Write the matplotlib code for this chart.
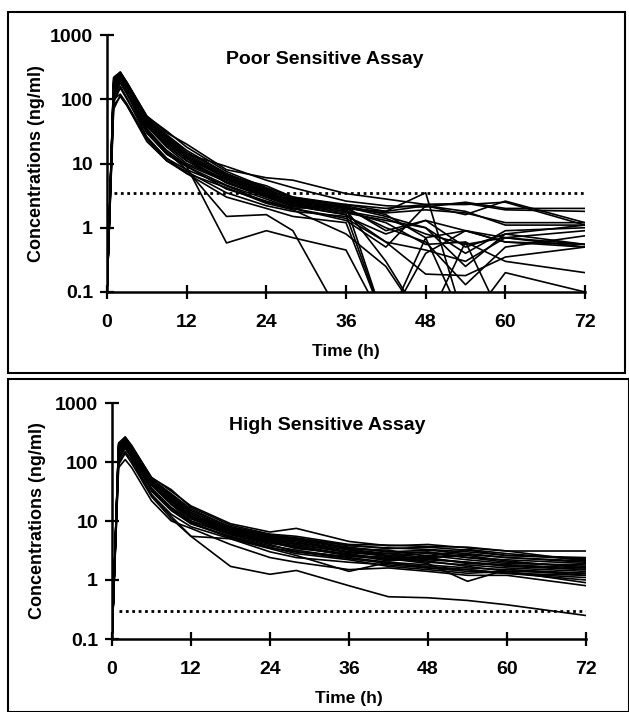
import matplotlib
matplotlib.use("Agg")
import matplotlib.pyplot as plt
from matplotlib.patches import Rectangle
from matplotlib.ticker import FixedLocator, NullLocator

plt.rcParams['font.family'] = ['Liberation Sans', 'DejaVu Sans']
plt.rcParams['font.weight'] = 'bold'

# --- Data ---
TIMES = [0, 1, 2, 3, 6, 9, 12, 18, 24, 28, 36, 42, 48, 54, 60, 72]
X_TICKS = [0, 12, 24, 36, 48, 60, 72]
Y_TICKS = [0.1, 1, 10, 100, 1000]
Y_LABELS = ["0.1", "1", "10", "100", "1000"]
TITLES = ["Poor Sensitive Assay", "High Sensitive Assay"]
LOQ = [3.5, 0.3]

# poor sensitive assay: one row per subject (values < 0.1 fall off the axis)
POOR = [
    [0.1, 160, 255, 180, 55, 30, 20, 8.0, 6.0, 5.5, 3.4, 2.8, 2.3, 2.4, 1.9, 1.8],
    [0.1, 200, 265, 175, 50, 26, 14, 9.0, 5.5, 4.2, 2.6, 2.2, 2.1, 2.5, 2.0, 2.0],
    [0.1, 90, 150, 100, 30, 14, 9.0, 0.58, 0.9, 0.7, 0.45, 0.03, 0.03, 0.03, 0.03, 0.03],
    [0.1, 120, 200, 130, 35, 15, 8.0, 1.5, 1.6, 0.9, 0.03, 0.03, 0.03, 0.03, 0.03, 0.03],
    [0.1, 180, 250, 170, 48, 24, 13, 6.5, 4.5, 3.0, 2.3, 1.8, 3.5, 0.03, 0.03, 0.03],
    [0.1, 100, 120, 85, 25, 12, 8.0, 4.5, 2.5, 2.0, 2.2, 0.03, 0.4, 0.9, 0.7, 0.55],
    [0.1, 210, 260, 180, 52, 28, 16, 7.0, 4.0, 2.8, 2.0, 1.0, 0.6, 0.13, 0.5, 0.75],
    [0.1, 150, 235, 155, 40, 20, 11, 5.0, 3.0, 2.2, 1.6, 0.6, 0.19, 0.18, 0.35, 0.5],
    [0.1, 80, 110, 80, 24, 11, 7.5, 3.5, 2.2, 1.8, 1.5, 0.8, 1.3, 0.5, 0.8, 0.55],
    [0.1, 170, 245, 165, 46, 22, 12, 6.0, 3.5, 2.6, 2.1, 1.5, 1.0, 0.25, 0.8, 1.1],
    [0.1, 140, 230, 150, 38, 18, 10, 5.5, 3.2, 2.4, 1.8, 1.2, 0.55, 0.6, 0.3, 0.2],
    [0.1, 110, 180, 120, 30, 14, 9.0, 4.0, 2.6, 2.0, 1.3, 0.5, 2.2, 1.6, 2.6, 1.2],
    [0.1, 155, 230, 160, 44, 22, 12, 5.0, 3.0, 2.1, 2.3, 2.0, 2.3, 2.3, 2.5, 1.1],
    [0.1, 220, 265, 185, 54, 32, 18, 7.5, 4.2, 3.0, 2.2, 1.6, 0.7, 0.9, 0.6, 0.55],
    [0.1, 100, 160, 105, 26, 12, 7.0, 3.0, 2.0, 1.5, 1.2, 0.03, 0.03, 0.03, 0.2, 0.1],
    [0.1, 160, 240, 160, 42, 21, 12, 6.0, 3.6, 2.5, 1.9, 0.3, 0.03, 0.6, 0.03, 0.03],
    [0.1, 175, 250, 170, 47, 24, 13, 5.8, 3.3, 2.3, 1.7, 1.3, 1.0, 0.4, 0.9, 1.0],
    [0.1, 130, 210, 140, 34, 16, 9.5, 5.2, 3.1, 2.2, 1.6, 0.03, 0.7, 0.03, 0.03, 0.03],
    [0.1, 190, 255, 175, 50, 27, 15, 6.8, 4.0, 2.7, 2.0, 1.8, 2.2, 1.8, 1.1, 1.1],
    [0.1, 70, 115, 80, 22, 11, 7.0, 4.2, 2.4, 1.9, 0.8, 0.25, 0.03, 0.03, 0.03, 0.03],
    [0.1, 165, 245, 170, 46, 23, 13, 6.2, 3.7, 2.6, 2.0, 1.7, 1.9, 1.7, 1.2, 1.2],
    [0.1, 120, 190, 125, 32, 15, 9.0, 4.6, 2.8, 2.0, 1.4, 0.6, 0.45, 0.3, 0.7, 0.5],
    [0.1, 185, 250, 170, 48, 25, 14, 6.5, 3.8, 2.9, 2.1, 0.9, 1.3, 0.9, 0.6, 0.5],
    [0.1, 145, 225, 150, 40, 19, 11, 5.6, 3.4, 2.4, 1.8, 1.4, 0.8, 0.55, 0.7, 0.9],
]

# high sensitive assay
HIGH = [
    [0.1, 160, 245, 170, 52, 28, 14, 7.5, 5.5, 5.0, 3.5, 3.0, 3.2, 2.8, 2.4, 2.0],
    [0.1, 90, 140, 95, 26, 11, 5.5, 1.7, 1.25, 1.45, 0.8, 0.52, 0.5, 0.45, 0.38, 0.25],
    [0.1, 110, 170, 115, 28, 12, 5.5, 5.0, 3.0, 2.4, 2.0, 1.8, 1.6, 1.4, 1.3, 1.0],
    [0.1, 200, 265, 185, 55, 32, 18, 9.0, 6.5, 7.5, 4.5, 3.8, 4.0, 3.5, 3.1, 3.1],
    [0.1, 160, 240, 165, 46, 23, 12, 7.0, 5.0, 4.6, 3.2, 2.6, 2.8, 2.4, 2.0, 1.7],
    [0.1, 175, 250, 170, 48, 25, 13, 7.2, 5.2, 4.8, 3.4, 3.2, 2.5, 3.3, 2.8, 2.2],
    [0.1, 120, 190, 130, 34, 16, 9.0, 5.5, 3.8, 3.2, 2.4, 2.0, 1.8, 1.6, 1.5, 1.3],
    [0.1, 140, 220, 150, 40, 19, 10, 6.0, 4.2, 3.6, 2.6, 2.4, 2.0, 1.8, 1.6, 1.4],
    [0.1, 190, 255, 175, 50, 27, 15, 8.0, 5.8, 5.2, 3.8, 3.5, 3.3, 3.0, 2.6, 2.3],
    [0.1, 150, 235, 160, 44, 21, 11, 6.5, 4.6, 4.0, 3.0, 2.5, 2.2, 2.0, 1.8, 1.5],
    [0.1, 80, 110, 80, 22, 10, 7.5, 4.0, 2.4, 2.0, 1.5, 1.6, 1.4, 1.2, 1.2, 0.8],
    [0.1, 210, 265, 190, 54, 34, 17, 8.5, 6.0, 5.5, 4.0, 3.9, 3.7, 3.6, 3.1, 2.1],
    [0.1, 140, 225, 150, 42, 20, 11, 6.2, 4.4, 3.4, 2.8, 2.2, 2.6, 2.2, 1.9, 1.8],
    [0.1, 165, 240, 165, 45, 22, 12, 6.8, 4.8, 4.4, 3.0, 2.8, 2.4, 2.6, 2.1, 1.6],
    [0.1, 100, 150, 105, 28, 13, 8.0, 5.0, 3.4, 2.6, 1.4, 2.0, 1.6, 1.5, 1.3, 1.1],
    [0.1, 180, 250, 170, 47, 24, 13, 7.0, 5.0, 4.2, 3.3, 2.8, 3.0, 2.4, 2.2, 1.9],
    [0.1, 130, 205, 140, 36, 17, 10, 5.8, 4.0, 3.0, 2.5, 2.3, 1.9, 0.95, 1.5, 1.2],
    [0.1, 185, 255, 175, 49, 26, 14, 7.5, 5.4, 4.8, 3.6, 3.0, 2.9, 2.7, 2.4, 2.1],
    [0.1, 115, 180, 125, 32, 15, 9.0, 5.3, 3.6, 2.8, 2.2, 1.7, 1.5, 1.3, 1.4, 0.9],
    [0.1, 170, 245, 165, 46, 22, 12, 6.6, 4.7, 4.0, 2.9, 2.6, 2.3, 2.0, 1.7, 1.5],
    [0.1, 145, 230, 155, 42, 20, 11, 6.0, 4.3, 3.8, 2.7, 2.1, 2.4, 1.9, 1.8, 1.6],
    [0.1, 195, 255, 180, 51, 29, 16, 7.8, 5.6, 5.0, 3.9, 3.4, 3.6, 3.2, 2.6, 2.4],
    [0.1, 155, 235, 160, 43, 21, 11.5, 6.4, 4.5, 3.6, 2.6, 2.4, 2.1, 1.7, 1.4, 1.3],
    [0.1, 125, 200, 135, 35, 16, 9.5, 5.2, 3.5, 3.0, 2.3, 1.9, 1.7, 1.5, 1.3, 1.2],
]


def draw_panel(ax, subjects, title, loq, ylabel_x):
    for conc in subjects:
        ax.plot(TIMES, conc, color='black', linewidth=1.2)
    ax.plot([1, 72], [loq, loq], color='black', linestyle=(0, (1, 1.3)), linewidth=2.0)

    ax.set_yscale('log')
    ax.set_xlim(0, 72)
    ax.set_ylim(0.1, 1000)
    ax.yaxis.set_major_locator(FixedLocator(Y_TICKS))
    ax.yaxis.set_minor_locator(NullLocator())
    ax.set_yticklabels(Y_LABELS)
    ax.set_xticks(X_TICKS)
    ax.tick_params(direction='inout', length=10, width=1.6, labelsize=14)
    ax.tick_params(axis='x', pad=11)
    ax.tick_params(axis='y', pad=5)

    for side in ['top', 'right']:
        ax.spines[side].set_visible(False)
    for side in ['left', 'bottom']:
        ax.spines[side].set_linewidth(1.8)
    ax.patch.set_alpha(0)

    ax.set_xlabel("Time (h)", fontsize=12.5, fontweight='bold', labelpad=9)
    ax.set_ylabel("Concentrations (ng/ml)", fontsize=13, fontweight='bold')
    ax.yaxis.set_label_coords(ylabel_x, 0.5)
    ax.text(0.455, 0.905, title, transform=ax.transAxes, ha='center', va='center',
            fontsize=14, fontweight='bold')


fig = plt.figure(figsize=(6.29, 7.12), dpi=100)

# panel frames
fig.patches.append(Rectangle((8 / 629, 1 - 373 / 712), 617 / 629, 361 / 712,
                             transform=fig.transFigure, fill=False, lw=1.5, ec='black'))
fig.patches.append(Rectangle((8 / 629, 0), 621 / 629, 1 - 379 / 712,
                             transform=fig.transFigure, fill=False, lw=1.5, ec='black'))

ax1 = fig.add_axes([107 / 629, 1 - 292 / 712, 478 / 629, 257 / 712])
ax2 = fig.add_axes([112 / 629, 1 - 639 / 712, 474 / 629, 236 / 712])

draw_panel(ax1, POOR, TITLES[0], LOQ[0], -0.13)
draw_panel(ax2, HIGH, TITLES[1], LOQ[1], -0.14)

fig.savefig("out.png", dpi=100)
